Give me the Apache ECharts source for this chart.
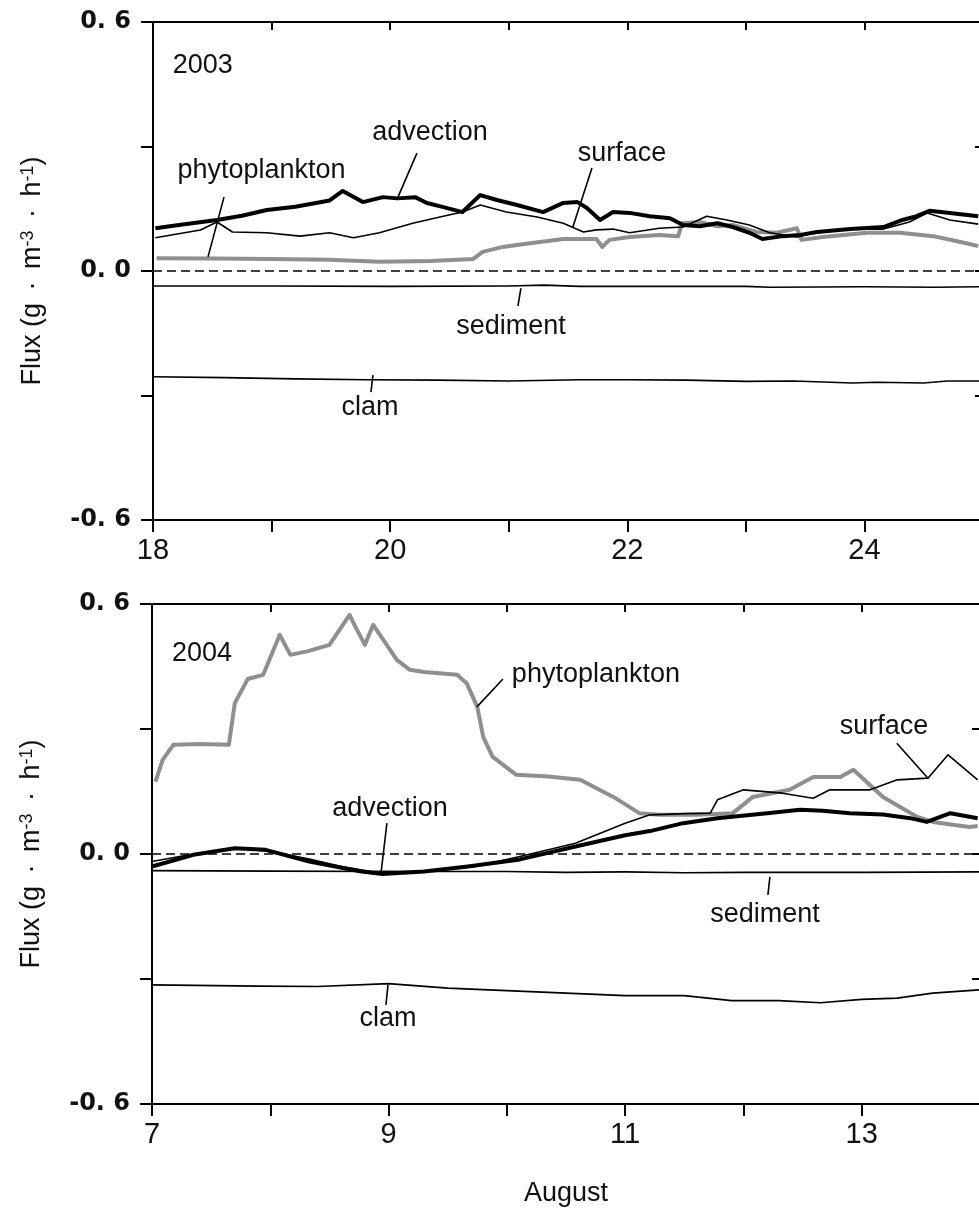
<!DOCTYPE html>
<html><head><meta charset="utf-8">
<script src="https://cdn.jsdelivr.net/npm/echarts@6/dist/echarts.min.js"></script>
<style>html,body{margin:0;padding:0;background:#fff;overflow:hidden}#c{width:979px;height:1208px}</style>
</head><body><div id="c"></div>
<script>
// ---------- 2003 panel (days of August 18-25) ----------
const xTicks2003 = ['18','20','22','24'];
const advection2003 = [[18.02,0.103],[18.25,0.112],[18.54,0.123],[18.75,0.133],[18.96,0.147],[19.2,0.155],[19.49,0.170],[19.60,0.193],[19.77,0.166],[19.94,0.178],[20.06,0.175],[20.21,0.178],[20.31,0.164],[20.45,0.154],[20.61,0.142],[20.76,0.183],[20.90,0.171],[21.07,0.159],[21.29,0.142],[21.46,0.164],[21.58,0.166],[21.66,0.152],[21.77,0.123],[21.88,0.142],[22.02,0.140],[22.19,0.132],[22.36,0.127],[22.47,0.111],[22.61,0.108],[22.76,0.115],[22.89,0.106],[23.03,0.092],[23.14,0.077],[23.31,0.084],[23.46,0.087],[23.60,0.094],[23.88,0.101],[24.16,0.106],[24.32,0.123],[24.44,0.132],[24.55,0.145],[24.72,0.140],[24.96,0.132]];
const surface2003 = [[18.02,0.080],[18.40,0.099],[18.54,0.118],[18.67,0.094],[18.96,0.092],[19.24,0.084],[19.49,0.092],[19.69,0.080],[19.91,0.092],[20.19,0.115],[20.42,0.130],[20.61,0.142],[20.76,0.159],[20.98,0.142],[21.24,0.130],[21.46,0.115],[21.63,0.094],[21.74,0.099],[21.88,0.101],[22.02,0.092],[22.27,0.103],[22.47,0.106],[22.67,0.132],[22.84,0.123],[23.03,0.111],[23.20,0.092],[23.43,0.082],[23.60,0.092],[23.88,0.101],[24.16,0.101],[24.38,0.118],[24.53,0.140],[24.72,0.123],[24.96,0.113]];
const phyto2003 = [[18.03,0.031],[18.5,0.030],[19.0,0.029],[19.49,0.027],[19.91,0.022],[20.34,0.024],[20.70,0.029],[20.78,0.046],[20.95,0.058],[21.18,0.067],[21.46,0.077],[21.74,0.077],[21.79,0.058],[21.85,0.075],[22.02,0.082],[22.27,0.087],[22.43,0.084],[22.46,0.115],[22.61,0.118],[22.76,0.108],[22.89,0.111],[23.09,0.094],[23.26,0.092],[23.43,0.103],[23.47,0.075],[23.65,0.082],[24.02,0.092],[24.30,0.092],[24.58,0.084],[24.86,0.067],[24.96,0.060]];
const sediment2003 = [[18,-0.036],[19,-0.036],[20,-0.037],[21,-0.036],[21.3,-0.034],[21.6,-0.037],[22,-0.037],[23,-0.037],[23.2,-0.039],[24,-0.038],[24.6,-0.039],[25,-0.038]];
const clam2003 = [[18,-0.255],[18.6,-0.257],[19.2,-0.260],[19.8,-0.262],[20.4,-0.263],[21,-0.265],[21.6,-0.262],[22,-0.262],[22.5,-0.263],[23,-0.266],[23.4,-0.265],[23.9,-0.270],[24.1,-0.268],[24.5,-0.270],[24.7,-0.265],[25,-0.265]];
const labels2003 = ['2003','phytoplankton','advection','surface','sediment','clam'];
const labelAt2003 = [[18.42,0.496],[18.915,0.243],[20.336,0.333],[21.955,0.284],[21.019,-0.133],[19.83,-0.330]];
const leaders2003 = [[[18.599,0.178],[18.464,0.034]],[[20.226,0.284],[20.066,0.178]],[[21.702,0.248],[21.541,0.106]],[[21.103,-0.041],[21.078,-0.084]],[[19.855,-0.251],[19.838,-0.292]]];

// ---------- 2004 panel (days of August 7-14) ----------
const xTicks2004 = ['7','9','11','13'];
const phyto2004 = [[7.03,0.174],[7.09,0.226],[7.18,0.262],[7.40,0.264],[7.65,0.262],[7.70,0.362],[7.81,0.420],[7.94,0.430],[8.08,0.526],[8.17,0.478],[8.32,0.487],[8.50,0.502],[8.67,0.574],[8.72,0.545],[8.80,0.502],[8.87,0.550],[9.07,0.466],[9.18,0.442],[9.30,0.437],[9.58,0.430],[9.66,0.410],[9.75,0.353],[9.80,0.281],[9.88,0.233],[10.08,0.190],[10.35,0.186],[10.62,0.178],[10.90,0.137],[11.12,0.098],[11.29,0.094],[11.6,0.094],[11.91,0.098],[12.08,0.137],[12.39,0.154],[12.59,0.185],[12.82,0.185],[12.93,0.202],[13.18,0.137],[13.47,0.089],[13.60,0.077],[13.91,0.065],[13.98,0.067]];
const surface2004 = [[7.0,-0.018],[7.35,0.000],[7.7,0.014],[8.0,0.006],[8.33,-0.012],[8.6,-0.030],[8.85,-0.042],[9.3,-0.042],[9.75,-0.029],[10.11,-0.006],[10.58,0.026],[11.0,0.074],[11.21,0.094],[11.5,0.097],[11.72,0.098],[11.78,0.130],[12.0,0.154],[12.33,0.146],[12.59,0.134],[12.73,0.154],[13.07,0.154],[13.30,0.178],[13.56,0.182],[13.73,0.238],[13.98,0.178]];
const advection2004 = [[7.0,-0.030],[7.35,-0.002],[7.7,0.014],[7.96,0.010],[8.33,-0.018],[8.77,-0.042],[8.95,-0.048],[9.3,-0.042],[9.67,-0.030],[10.11,-0.013],[10.58,0.018],[11.0,0.045],[11.21,0.055],[11.49,0.074],[11.78,0.086],[12.2,0.098],[12.48,0.106],[12.67,0.104],[12.9,0.098],[13.18,0.095],[13.41,0.086],[13.55,0.077],[13.75,0.098],[13.98,0.086]];
const sediment2004 = [[7,-0.040],[8,-0.041],[9,-0.042],[10,-0.042],[10.5,-0.044],[11,-0.043],[11.5,-0.045],[12,-0.044],[13,-0.044],[14,-0.043]];
const clam2004 = [[7,-0.314],[7.9,-0.317],[8.4,-0.318],[9,-0.311],[9.5,-0.322],[10,-0.328],[10.5,-0.334],[11,-0.340],[11.5,-0.340],[11.9,-0.352],[12.3,-0.352],[12.65,-0.357],[13,-0.349],[13.3,-0.346],[13.6,-0.334],[14,-0.326]];
const labels2004 = ['2004','phytoplankton','surface','advection','sediment','clam'];
const labelAt2004 = [[7.423,0.482],[10.753,0.430],[13.188,0.305],[9.012,0.108],[12.182,-0.146],[8.995,-0.396]];
const leaders2004 = [[[9.967,0.420],[9.747,0.353]],[[13.297,0.266],[13.560,0.182]],[[8.986,0.074],[8.936,-0.046]],[[12.224,-0.055],[12.207,-0.098]],[[8.995,-0.314],[8.978,-0.362]]];

const yTickText = ['-0. 6','0. 0','0. 6'];
const yName = 'Flux (g {dot|·} m{sup|-3} {dot|·} h{sup|-1})';
const xTitle = 'August';

// ---------- build ----------
const FONT = 'Liberation Sans, Arial, sans-serif';
const GRAY = '#8f8f8f';
const chart = echarts.init(document.getElementById('c'));

function xAxes(gi, min, labels, withName) {
  const bottom = {
    type: 'value', gridIndex: gi, min: min, max: min + 7, interval: 1, position: 'bottom',
    axisLine: {onZero: false, lineStyle: {color: '#000', width: 2}},
    axisTick: {show: true, inside: false, length: 12, lineStyle: {color: '#000', width: 2}},
    axisLabel: {show: true, margin: 16, fontSize: 29, color: '#111', fontFamily: FONT,
      formatter: v => { const s = String(Math.round(v)); return labels.indexOf(s) >= 0 ? s : ''; }},
    splitLine: {show: false}
  };
  if (withName) {
    Object.assign(bottom, {name: xTitle, nameLocation: 'middle', nameGap: 76,
      nameTextStyle: {fontSize: 27, color: '#111', fontFamily: FONT}});
  }
  const top = {
    type: 'value', gridIndex: gi, min: min, max: min + 7, interval: 1, position: 'top',
    axisLine: {onZero: false, lineStyle: {color: '#000', width: 2}},
    axisTick: {show: true, inside: true, length: 8, lineStyle: {color: '#000', width: 2}},
    axisLabel: {show: false}, splitLine: {show: false}
  };
  return [bottom, top];
}
function yAxes(gi) {
  const left = {
    type: 'value', gridIndex: gi, min: -0.6, max: 0.6, interval: 0.3, position: 'left',
    name: yName, nameLocation: 'middle', nameRotate: 90, nameGap: 106,
    nameTextStyle: {fontSize: 27, color: '#111', fontFamily: FONT,
      rich: {
        sup: {fontSize: 18, color: '#111', fontFamily: FONT, verticalAlign: 'top', padding: [0, 0, 10, 0]},
        dot: {fontSize: 27, color: '#111', fontFamily: FONT, padding: [0, 5, 0, 5]}
      }},
    axisLine: {onZero: false, lineStyle: {color: '#000', width: 2}},
    axisTick: {show: true, inside: false, length: 12, lineStyle: {color: '#000', width: 2}},
    axisLabel: {show: true, margin: 22, fontSize: 24, fontWeight: 'bold', color: '#111', fontFamily: 'DejaVu Sans, sans-serif',
      formatter: v => { const k = Math.round(v * 10); if (k === -6) return yTickText[0]; if (k === 0) return yTickText[1]; if (k === 6) return yTickText[2]; return ''; }},
    splitLine: {show: false}
  };
  const right = {
    type: 'value', gridIndex: gi, min: -0.6, max: 0.6, interval: 0.3, position: 'right',
    axisLine: {onZero: false, lineStyle: {color: '#000', width: 2}},
    axisTick: {show: true, inside: true, length: 8, lineStyle: {color: '#000', width: 2}},
    axisLabel: {show: false}, splitLine: {show: false}
  };
  return [left, right];
}
function lineS(gi, data, color, width, z) {
  return {type: 'line', xAxisIndex: gi * 2, yAxisIndex: gi * 2, data: data, showSymbol: false, symbol: 'none',
    lineStyle: {color: color, width: width, join: 'round'}, z: z, animation: false, silent: true};
}
function panel(gi, phyto, surface, advection, sediment, clam, labels, labelAt, leaders) {
  const s = [];
  const zero = lineS(gi, sediment, '#000', 1.6, 3);
  zero.markLine = {silent: true, symbol: 'none', label: {show: false},
    lineStyle: {color: '#000', width: 1.6, type: [9, 5]}, data: [{yAxis: 0}], animation: false};
  s.push(zero);
  s.push(lineS(gi, clam, '#000', 1.6, 3));
  s.push(lineS(gi, phyto, GRAY, 4, 4));
  s.push(lineS(gi, surface, '#000', 1.6, 5));
  s.push(lineS(gi, advection, '#000', 4, 6));
  leaders.forEach(l => s.push(lineS(gi, l, '#000', 1.6, 7)));
  s.push({type: 'scatter', xAxisIndex: gi * 2, yAxisIndex: gi * 2, symbolSize: 0, silent: true, z: 8, animation: false,
    itemStyle: {opacity: 1},
    data: labels.map((n, i) => ({name: n, value: labelAt[i]})),
    label: {show: true, position: [0, 0], align: 'center', verticalAlign: 'middle', formatter: p => p.name,
      fontSize: 27, color: '#111', opacity: 1, fontFamily: FONT}});
  return s;
}

const option = {
  backgroundColor: '#fff',
  animation: false,
  grid: [
    {left: 153, top: 22, width: 830, height: 498, containLabel: false, outerBoundsMode: 'none'},
    {left: 152, top: 604, width: 828, height: 500, containLabel: false, outerBoundsMode: 'none'}
  ],
  xAxis: [...xAxes(0, 18, xTicks2003, false), ...xAxes(1, 7, xTicks2004, true)],
  yAxis: [...yAxes(0), ...yAxes(1)],
  series: [
    ...panel(0, phyto2003, surface2003, advection2003, sediment2003, clam2003, labels2003, labelAt2003, leaders2003),
    ...panel(1, phyto2004, surface2004, advection2004, sediment2004, clam2004, labels2004, labelAt2004, leaders2004)
  ]
};
chart.setOption(option);
</script></body></html>
